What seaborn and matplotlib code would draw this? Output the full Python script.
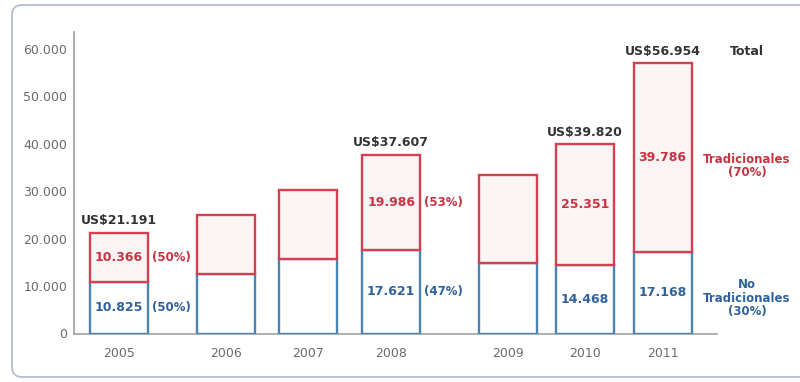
import numpy as np
import pandas as pd
import seaborn as sns
import matplotlib
matplotlib.use("Agg")
import matplotlib.pyplot as plt
from matplotlib.patches import FancyBboxPatch
from matplotlib.transforms import IdentityTransform

# Export values (US$ millions)
years = ["2005", "2006", "2007", "2008", "2009", "2010", "2011"]
no_tradicionales = [10825, 12500, 15700, 17621, 14800, 14468, 17168]
tradicionales = [10366, 12400, 14500, 19986, 18600, 25351, 39786]
totales = [21191, 24900, 30200, 37607, 33400, 39820, 56954]

# Which bars carry printed figures
labelled_years = ["2005", "2008", "2010", "2011"]
share_labels = {"2005": ("(50%)", "(50%)"), "2008": ("(53%)", "(47%)")}
yticks = [0, 10000, 20000, 30000, 40000, 50000, 60000]

# Layout: horizontal slot of each year (uneven gaps between groups)
slots = [0.0, 1.31, 2.30, 3.32, 4.74, 5.68, 6.63]
bar_w = 0.707

RED = "#d4404f"
BLUE = "#4a84b6"
PINK = "#fbf4f4"
RED_TXT = "#c73341"
BLUE_TXT = "#2f629c"
DARK = "#333333"
GREY = "#6a6a6a"


def fmt(v):
    return f"{v:,}".replace(",", ".")


sns.set_theme(style="white")
plt.rcParams["font.family"] = ["DejaVu Sans"]

df = pd.DataFrame({"slot": slots, "year": years,
                   "nt": no_tradicionales, "trad": tradicionales,
                   "total": totales})

fig = plt.figure(figsize=(8.0, 3.82), dpi=100)
ax = fig.add_axes([74 / 800, 48.5 / 382, 643 / 800, 301.5 / 382])

width = bar_w / np.diff(slots).min()

# Lower segment: non-traditional exports
sns.barplot(data=df, x="slot", y="nt", native_scale=True, width=width,
            errorbar=None, ax=ax, color="white", saturation=1,
            facecolor="white", edgecolor=BLUE, linewidth=1.7, zorder=3)
# Upper segment: traditional exports stacked on top
sns.barplot(data=df, x="slot", y="trad", native_scale=True, width=width,
            errorbar=None, ax=ax, color=PINK, saturation=1,
            facecolor=PINK, edgecolor=RED, linewidth=1.7,
            bottom=df["nt"].to_numpy(), zorder=3)

ax.set_xlim(-0.549, 7.293)
ax.set_ylim(0, 63500)
ax.set_xticks(slots)
ax.set_xticklabels(years)
ax.set_yticks(yticks)
ax.set_yticklabels([fmt(t) for t in yticks])
ax.set_xlabel("")
ax.set_ylabel("")
ax.tick_params(axis="both", length=0, labelsize=9, colors=GREY)
ax.tick_params(axis="x", pad=10)
ax.tick_params(axis="y", pad=5)
for side in ("top", "right"):
    ax.spines[side].set_visible(False)
for side in ("left", "bottom"):
    ax.spines[side].set_color("#a8a8a8")
    ax.spines[side].set_linewidth(1.3)
ax.grid(False)

# Figures printed on and around the bars
for _, r in df.iterrows():
    if r["year"] not in labelled_years:
        continue
    x = r["slot"]
    ax.annotate("US$" + fmt(int(r["total"])), (x, r["total"]),
                xytext=(0, 4), textcoords="offset points",
                ha="center", va="bottom", fontsize=9, fontweight="bold",
                color=DARK)
    y_trad = r["nt"] + r["trad"] / 2
    y_nt = r["nt"] / 2
    ax.text(x, y_trad, fmt(int(r["trad"])), ha="center", va="center",
            fontsize=9, fontweight="bold", color=RED_TXT, zorder=4)
    ax.text(x, y_nt, fmt(int(r["nt"])), ha="center", va="center",
            fontsize=9, fontweight="bold", color=BLUE_TXT, zorder=4)
    if r["year"] in share_labels:
        s_trad, s_nt = share_labels[r["year"]]
        ax.text(x + 0.40, y_trad, s_trad, ha="left", va="center",
                fontsize=8.5, fontweight="bold", color=RED_TXT)
        ax.text(x + 0.40, y_nt, s_nt, ha="left", va="center",
                fontsize=8.5, fontweight="bold", color=BLUE_TXT)

# Series names to the right of the last bar
last = df.iloc[-1]
x_key = last["slot"] + 1.03
ax.annotate("Total", (x_key, last["total"]), xytext=(0, 4),
            textcoords="offset points", ha="center", va="bottom",
            fontsize=9, fontweight="bold", color=DARK, annotation_clip=False)
ax.annotate("Tradicionales\n(70%)", (x_key, last["nt"] + last["trad"] / 2),
            xytext=(0, -6), textcoords="offset points", ha="center",
            va="center", fontsize=8.5, fontweight="bold", color=RED_TXT,
            linespacing=1.0, annotation_clip=False)
ax.annotate("No\nTradicionales\n(30%)", (x_key, last["nt"] / 2),
            xytext=(0, -4), textcoords="offset points", ha="center",
            va="center", fontsize=8.5, fontweight="bold", color=BLUE_TXT,
            linespacing=1.05, annotation_clip=False)

# Rounded panel border, open past the right edge of the image
frame = FancyBboxPatch((12, 5), 1200, 372,
                       boxstyle="round,pad=0,rounding_size=10",
                       transform=IdentityTransform(), facecolor="none",
                       edgecolor="#b3bdd0", linewidth=1.3)
fig.add_artist(frame)

fig.savefig("out.png", dpi=100)
